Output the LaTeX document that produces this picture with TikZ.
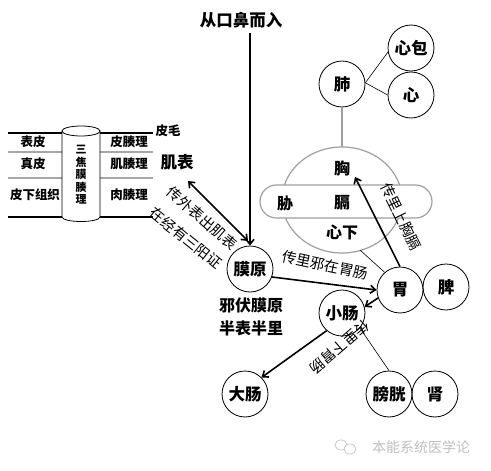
\documentclass[tikz,border=0pt]{standalone}
\usepackage{fontspec}
\setmainfont{Noto Sans CJK SC}
\usetikzlibrary{arrows.meta}
\begin{document}
\begin{tikzpicture}[x=1pt,y=-1pt,
  organ/.style={circle, draw, line width=0.8pt, minimum size=46pt, inner sep=0pt, font=\fontsize{16.5}{16.5}\selectfont\bfseries},
  lbl/.style={inner sep=0pt, font=\fontsize{16}{16}\selectfont\bfseries},
  small/.style={inner sep=0pt, font=\fontsize{12.5}{12.5}\selectfont\bfseries},
  route/.style={inner sep=0pt, font=\fontsize{14.5}{14.5}\selectfont},
  arr/.style={line width=1.6pt, -{Straight Barb[length=5pt,width=8pt]}},
  darr/.style={line width=1.6pt, {Straight Barb[length=5pt,width=8pt]}-{Straight Barb[length=5pt,width=8pt]}},
  thin/.style={line width=0.6pt},
  grayline/.style={draw=gray!75, line width=1.2pt},
  tline/.style={line width=1.5pt},
  tgray/.style={line width=1.5pt, draw=gray!70}
]
\useasboundingbox (0,0) rectangle (491,471);
\fill[white] (0,0) rectangle (491,471);

% ---------- left table ----------
\draw[tline] (8,133) -- (62,133);
\draw[tline] (100,133) -- (153,133);
\draw[tgray] (8,152) -- (62,152);
\draw[tgray] (100,152) -- (153,152);
\draw[tgray] (8,178) -- (62,178);
\draw[tgray] (100,178) -- (153,178);
\draw[tline] (8,217) -- (62,217);
\draw[tline] (100,217) -- (153,217);
% cylinder
\draw[line width=0.8pt, fill=white] (62,131) -- (62,217) arc[start angle=180, end angle=360, x radius=19pt, y radius=4.5pt] -- (100,131);
\draw[line width=0.8pt, fill=white] (81,131) ellipse [x radius=19pt, y radius=5pt];
\node[inner sep=0pt, font=\fontsize{11}{12.5}\selectfont\bfseries, align=center] (cyl) at (81,175) {三\\焦\\膜\\腠\\理};
\node[small] (biaopi) at (33,142) {表皮};
\node[small] (zhenpi) at (33,164) {真皮};
\node[small] (pixia) at (35,195) {皮下组织};
\node[small] (picou) at (129,142) {皮腠理};
\node[small] (jicou) at (129,164) {肌腠理};
\node[small] (roucou) at (129,195) {肉腠理};
\node[small] (pimao) at (168,131) {皮毛};
\node[inner sep=0pt, font=\fontsize{16.5}{16.5}\selectfont\bfseries] (jibiao) at (177,162) {肌表};

% ---------- top ----------
\node[inner sep=0pt, font=\fontsize{16.5}{16.5}\selectfont\bfseries] (entry) at (241,20) {从口鼻而入};
\coordinate (src) at (250,33);

% ---------- chest region ----------
\draw[grayline] (342,200) ellipse [x radius=60pt, y radius=53pt];
\draw[grayline, fill=white, rounded corners=16.5pt] (260,185) rectangle (432,218);
\coordinate (xtop) at (342,147);
\coordinate (xbr) at (360,250);
\coordinate (xpt) at (355,177);
\node[lbl] (xiong) at (342,168) {胸};
\node[lbl] (xie) at (285,203) {胁};
\node[lbl] (ge) at (342,203) {膈};
\node[lbl] (xinxia) at (342,232) {心下};

% ---------- organs ----------
\node[organ] (fei) at (342,84) {肺};
\node[organ] (xinbao) at (411,48) {心包};
\node[organ] (xin) at (411,95) {心};
\node[organ] (moyuan) at (250,269) {膜原};
\node[organ] (wei) at (400,290) {胃};
\node[organ] (pi) at (446,287) {脾};
\node[organ] (xiaochang) at (342,313) {小肠};
\node[organ] (dachang) at (245,394) {大肠};
\node[organ] (pangguang) at (389,394) {膀胱};
\node[organ] (shen) at (435,394) {肾};

\node[lbl] (xiefu) at (251,305) {邪伏膜原};
\node[lbl] (banbiao) at (251,328) {半表半里};

% ---------- thin connectors ----------
\draw[thin] (fei.3) -- (xinbao.190);
\draw[thin] (fei.3) -- (xin.180);
\draw[grayline] (fei.south) -- (xtop);
\draw[thin] (xbr) -- (wei.131);
\draw[thin] (xiaochang.-40) -- (pangguang.north);

% ---------- arrows ----------
\coordinate (da1) at (188,181);
\coordinate (da2) at (248,241);
\draw[arr] (src) -- (moyuan.north);
\draw[darr] (da2) -- (da1);
\draw[arr] (moyuan.-20) -- (wei.180);
\draw[arr] (wei.north) -- (xpt);
\draw[arr] (wei.200) -- (xiaochang.15);
\draw[arr] (xiaochang.229) -- (dachang.45);

% ---------- route labels ----------
\node[route, rotate=-41] (r1) at (202,218) {传外表出肌表};
\node[route, rotate=-39] (r2) at (186,238) {在经有三阳证};
\node[route, rotate=-12] (r3) at (325,265) {传里邪在胃肠};
\node[route, rotate=-64] (r4) at (401,217) {传里上胸膈};
\node[route, rotate=221] (r5) at (340,347) {传里下胃肠};

% ---------- watermark ----------
\begin{scope}[draw=gray!45, line width=0.7pt]
\draw (341,445) ellipse [x radius=6pt, y radius=5pt];
\draw[fill=white] (350,449) ellipse [x radius=6pt, y radius=5pt];
\end{scope}
\node[inner sep=0pt, text=gray!50, font=\fontsize{14}{14}\selectfont] (wm) at (421,447) {本能系统医学论};
\end{tikzpicture}
\end{document}
